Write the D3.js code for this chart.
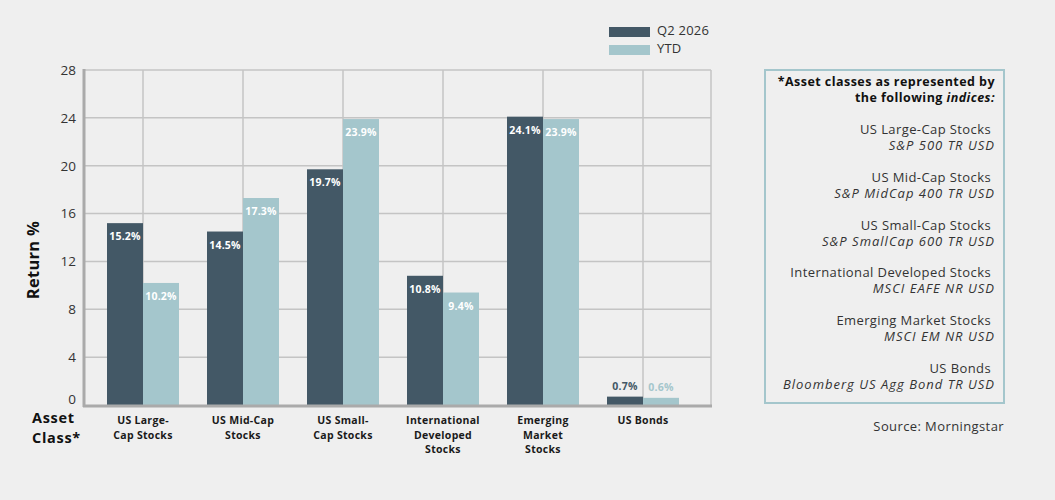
<!DOCTYPE html>
<html>
<head>
<meta charset="utf-8">
<script src="https://cdn.jsdelivr.net/npm/d3@7"></script>
<style>
  html, body { margin: 0; padding: 0; background: #efefef; }
  svg { display: block; font-family: "Open Sans", "DejaVu Sans", sans-serif; }
</style>
</head>
<body>
<svg id="chart" width="1055" height="500"></svg>
<script>
// categories and series
const categories = [
  "US Large-Cap Stocks",
  "US Mid-Cap Stocks",
  "US Small-Cap Stocks",
  "International Developed Stocks",
  "Emerging Market Stocks",
  "US Bonds"
];
const categoryLines = [
  ["US Large-", "Cap Stocks"],
  ["US Mid-Cap", "Stocks"],
  ["US Small-", "Cap Stocks"],
  ["International", "Developed", "Stocks"],
  ["Emerging", "Market", "Stocks"],
  ["US Bonds"]
];
const seriesNames = ["Q2 2026", "YTD"];
const q2Values = [15.2, 14.5, 19.7, 10.8, 24.1, 0.7];
const ytdValues = [10.2, 17.3, 23.9, 9.4, 23.9, 0.6];
const yTicks = [0, 4, 8, 12, 16, 20, 24, 28];
const indexNames = [
  "S&P 500 TR USD",
  "S&P MidCap 400 TR USD",
  "S&P SmallCap 600 TR USD",
  "MSCI EAFE NR USD",
  "MSCI EM NR USD",
  "Bloomberg US Agg Bond TR USD"
];

const colors = { "Q2 2026": "#435866", "YTD": "#a4c6cc" };

const svg = d3.select("#chart");
const plot = { left: 85, right: 711, top: 70, bottom: 405 };

const y = d3.scaleLinear().domain([0, 28]).range([plot.bottom, plot.top]);
const x = d3.scaleBand().domain(categories).range([93, 693])
  .paddingInner(0.28).paddingOuter(0.14);
const x1 = d3.scaleBand().domain(seriesNames).range([0, x.bandwidth()]);

const rows = categories.map((c, i) => ({
  cat: c,
  values: [
    { key: "Q2 2026", value: q2Values[i] },
    { key: "YTD", value: ytdValues[i] }
  ]
}));

// grid
const grid = svg.append("g").attr("class", "grid");
grid.selectAll("line.h")
  .data(yTicks.filter(t => t > 0))
  .enter().append("line")
  .attr("x1", plot.left).attr("x2", plot.right)
  .attr("y1", d => y(d)).attr("y2", d => y(d))
  .attr("stroke", "#c4c4c4").attr("stroke-width", 1.5);

grid.selectAll("line.v")
  .data(categories)
  .enter().append("line")
  .attr("x1", d => x(d) + x.bandwidth() / 2)
  .attr("x2", d => x(d) + x.bandwidth() / 2)
  .attr("y1", plot.top).attr("y2", plot.bottom)
  .attr("stroke", "#c4c4c4").attr("stroke-width", 1.5);

grid.append("line")
  .attr("x1", plot.right).attr("x2", plot.right)
  .attr("y1", plot.top).attr("y2", plot.bottom)
  .attr("stroke", "#c4c4c4").attr("stroke-width", 1.5);

// y axis labels
const yAxis = svg.append("g")
  .attr("transform", `translate(${plot.left - 9},0)`)
  .call(d3.axisLeft(y).tickValues(yTicks).tickSize(0).tickPadding(0));
yAxis.select(".domain").remove();
yAxis.selectAll("text")
  .attr("font-family", "Open Sans, DejaVu Sans, sans-serif")
  .attr("font-size", 13.5)
  .attr("fill", "#333")
  .attr("y", d => d === 0 ? -6 : 0);

// bars
const groups = svg.append("g").attr("class", "bars")
  .selectAll("g")
  .data(rows)
  .enter().append("g")
  .attr("transform", d => `translate(${x(d.cat)},0)`);

groups.selectAll("rect")
  .data(d => d.values)
  .enter().append("rect")
  .attr("x", d => x1(d.key))
  .attr("width", x1.bandwidth())
  .attr("y", d => y(d.value))
  .attr("height", d => y(0) - y(d.value))
  .attr("fill", d => colors[d.key]);

groups.selectAll("text")
  .data(d => d.values)
  .enter().append("text")
  .attr("x", d => x1(d.key) + x1.bandwidth() / 2)
  .attr("y", d => d.value < 3 ? y(d.value) - 7 : y(d.value) + 17)
  .attr("text-anchor", "middle")
  .attr("font-size", 10.5)
  .attr("font-weight", 700)
  .attr("letter-spacing", 0.2)
  .attr("fill", d => d.value < 3 ? colors[d.key] : "#ffffff")
  .text(d => d.value.toFixed(1) + "%");

// axis lines
svg.append("line")
  .attr("x1", plot.left - 1).attr("x2", plot.left - 1)
  .attr("y1", plot.top - 1).attr("y2", plot.bottom + 2)
  .attr("stroke", "#aaaaaa").attr("stroke-width", 3);
svg.append("line")
  .attr("x1", plot.left - 2).attr("x2", plot.right + 1)
  .attr("y1", plot.bottom + 1).attr("y2", plot.bottom + 1)
  .attr("stroke", "#aaaaaa").attr("stroke-width", 3);

// x category labels
const xl = svg.append("g").selectAll("text")
  .data(categories)
  .enter().append("text")
  .attr("x", d => x(d) + x.bandwidth() / 2)
  .attr("y", 424)
  .attr("text-anchor", "middle")
  .attr("font-size", 10.5)
  .attr("font-weight", 700)
  .attr("letter-spacing", 0.3)
  .attr("fill", "#1a1a1a");
xl.selectAll("tspan")
  .data((d, i) => categoryLines[i])
  .enter().append("tspan")
  .attr("x", function () { return d3.select(this.parentNode).attr("x"); })
  .attr("dy", (d, i) => i === 0 ? 0 : 14.5)
  .text(d => d);

// axis titles
svg.append("text")
  .attr("transform", "translate(39,260) rotate(-90)")
  .attr("text-anchor", "middle")
  .attr("font-size", 16.5)
  .attr("font-weight", 700)
  .attr("letter-spacing", 0.3)
  .attr("fill", "#111")
  .text("Return %");

const ac = svg.append("text")
  .attr("x", 32).attr("y", 423)
  .attr("font-size", 14.5)
  .attr("font-weight", 700)
  .attr("letter-spacing", 0.7)
  .attr("fill", "#111");
ac.append("tspan").attr("x", 32).attr("dy", 0).text("Asset");
ac.append("tspan").attr("x", 32).attr("dy", 20).text("Class*");

// legend
const legend = svg.append("g").attr("transform", "translate(609,27)");
const li = legend.selectAll("g")
  .data(seriesNames)
  .enter().append("g")
  .attr("transform", (d, i) => `translate(0,${i * 18})`);
li.append("rect")
  .attr("width", 41).attr("height", 10)
  .attr("fill", d => colors[d]);
li.append("text")
  .attr("x", 48).attr("y", 5)
  .attr("dominant-baseline", "middle")
  .attr("font-size", 13)
  .attr("letter-spacing", 0.2)
  .attr("fill", "#333")
  .text(d => d);

// index box
svg.append("rect")
  .attr("x", 765).attr("y", 70)
  .attr("width", 239).attr("height", 333)
  .attr("fill", "none")
  .attr("stroke", "#a4c6cc").attr("stroke-width", 2);

const bx = 995;
svg.append("text")
  .attr("x", bx).attr("y", 86)
  .attr("text-anchor", "end")
  .attr("font-size", 12.5).attr("font-weight", 700).attr("fill", "#111")
  .attr("letter-spacing", 0.45)
  .text("*Asset classes as represented by");
const h2 = svg.append("text")
  .attr("x", bx).attr("y", 102)
  .attr("text-anchor", "end")
  .attr("font-size", 12.5).attr("font-weight", 700).attr("fill", "#111")
  .attr("letter-spacing", 0.45);
h2.append("tspan").text("the following ");
h2.append("tspan").attr("font-style", "italic").text("indices:");

const entries = svg.append("g").selectAll("g")
  .data(categories)
  .enter().append("g")
  .attr("transform", (d, i) => `translate(${bx},${134 + i * 47.8})`);
entries.append("text")
  .attr("text-anchor", "end")
  .attr("x", -4)
  .attr("font-size", 13).attr("fill", "#333")
  .attr("letter-spacing", 0.4)
  .text(d => d);
entries.append("text")
  .attr("text-anchor", "end")
  .attr("y", 16)
  .attr("font-size", 13).attr("font-style", "italic").attr("fill", "#333")
  .attr("letter-spacing", 1.0)
  .text((d, i) => indexNames[i]);

svg.append("text")
  .attr("x", 1004).attr("y", 431)
  .attr("text-anchor", "end")
  .attr("font-size", 13).attr("fill", "#333")
  .attr("letter-spacing", 0.4)
  .text("Source: Morningstar");
</script>
</body>
</html>
